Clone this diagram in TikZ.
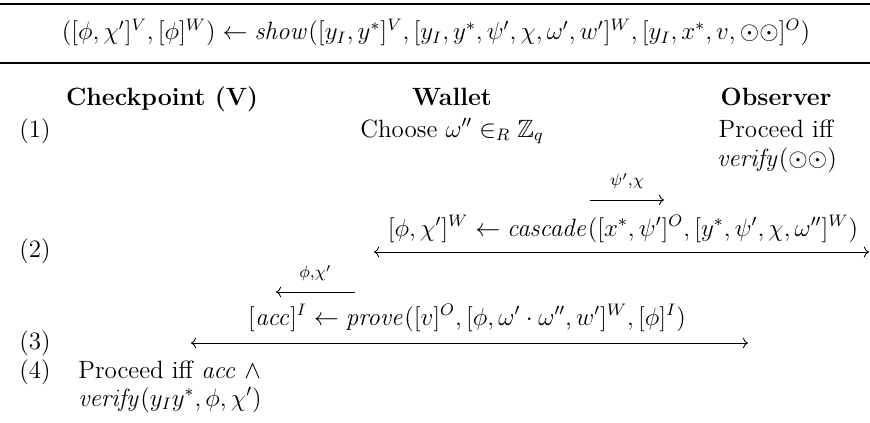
\documentclass[12pt,tikz,border=0pt]{standalone}
\usepackage{amsmath, amsfonts, amssymb}
\usepackage{tikz}
\usetikzlibrary{calc, arrows.meta}

\begin{document}
\begin{tikzpicture}[x=0.48pt, y=-0.48pt,
    txt/.style={anchor=base, inner sep=0pt},
    msg/.style={->, thin},
    bimsg/.style={<->, thin}]
  \useasboundingbox (0,0) rectangle (870,423);

  % regole
  \draw[line width=0.8pt] (0,4) -- (870,4);
  \draw[line width=0.8pt] (0,63) -- (870,63);

  % intestazione
  \node[txt] (show) at (436,40) {$([\phi,\chi']^V,[\phi]^W) \leftarrow \mathit{show}([y_I,y^*]^V,[y_I,y^*,\psi',\chi,\omega',w']^W,[y_I,x^*,v,\odot\odot]^O)$};

  % parti
  \node[txt] (chk) at (162,105) {\textbf{Checkpoint (V)}};
  \node[txt] (wal) at (452,105) {\textbf{Wallet}};
  \node[txt] (obs) at (776,105) {\textbf{Observer}};

  % passo 1
  \node[txt, anchor=base west] (s1) at (19,137) {(1)};
  \node[txt] (choose) at (452,137) {Choose $\omega'' \in_R \mathbb{Z}_q$};
  \node[txt] (obs1) at (776,137) {Proceed iff};
  \node[txt] (obs2) at (777,166) {$\mathit{verify}(\odot\odot)$};

  % passo 2
  \coordinate (a1s) at (590,200);
  \coordinate (a1e) at (664,200);
  \draw[msg] (a1s) -- (a1e) node[midway, above=1pt] (l1) {$\scriptstyle \psi',\chi$};
  \node[txt] (casc) at (623,236) {$[\phi,\chi']^W \leftarrow \mathit{cascade}([x^*,\psi']^O,[y^*,\psi',\chi,\omega'']^W)$};
  \coordinate (c1) at (374,252);
  \coordinate (c2) at (869,252);
  \draw[bimsg] (c1) -- (c2);
  \node[txt, anchor=base west] (s2) at (19,257) {(2)};

  % passo 3
  \coordinate (a2s) at (355,292);
  \coordinate (a2e) at (276,292);
  \draw[msg] (a2s) -- (a2e) node[midway, above=1pt] (l2) {$\scriptstyle \phi,\chi'$};
  \node[txt] (prv) at (467,325) {$[\mathit{acc}]^I \leftarrow \mathit{prove}([v]^O,[\phi,\omega'\cdot\omega'',w']^W,[\phi]^I)$};
  \coordinate (p1) at (191,343);
  \coordinate (p2) at (748,343);
  \draw[bimsg] (p1) -- (p2);
  \node[txt, anchor=base west] (s3) at (19,349) {(3)};

  % passo 4
  \node[txt, anchor=base west] (s4) at (19,378) {(4)};
  \node[txt, anchor=base west] (acc1) at (78,378) {Proceed iff $\mathit{acc}$ $\wedge$};
  \node[txt, anchor=base west] (acc2) at (78,406) {$\mathit{verify}(y_I y^*,\phi,\chi')$};
\end{tikzpicture}
\end{document}
